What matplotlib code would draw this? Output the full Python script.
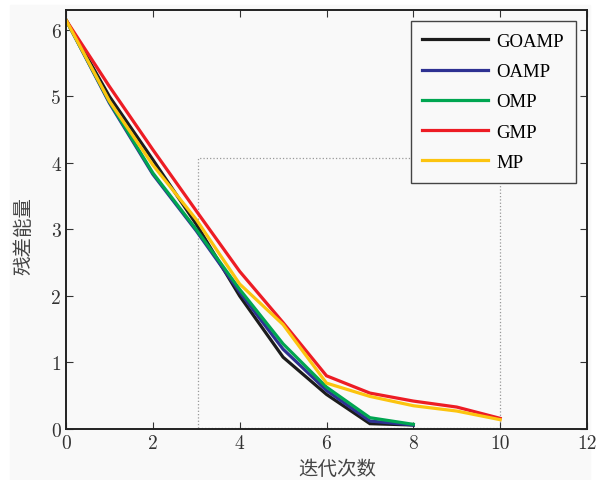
import matplotlib
matplotlib.use('Agg')
import matplotlib.pyplot as plt
from matplotlib.patches import Rectangle

# residual energy per iteration for each algorithm
goamp_x = [0, 1, 2, 3, 4, 5, 6, 7, 8]
goamp_y = [6.15, 5.0, 4.05, 3.08, 2.0, 1.08, 0.52, 0.08, 0.06]
oamp_x = [0, 1, 2, 3, 4, 5, 6, 7, 8]
oamp_y = [6.15, 4.9, 3.83, 2.98, 2.06, 1.2, 0.58, 0.12, 0.06]
omp_x = [0, 1, 2, 3, 4, 5, 6, 7, 8]
omp_y = [6.15, 4.92, 3.85, 3.0, 2.1, 1.28, 0.63, 0.17, 0.07]
gmp_x = [0, 1, 2, 3, 4, 5, 6, 7, 8, 9, 10]
gmp_y = [6.15, 5.15, 4.2, 3.28, 2.37, 1.6, 0.8, 0.54, 0.42, 0.33, 0.16]
mp_x = [0, 1, 2, 3, 4, 5, 6, 7, 8, 9, 10]
mp_y = [6.15, 4.93, 3.97, 3.15, 2.18, 1.57, 0.69, 0.49, 0.35, 0.27, 0.14]

names = ['GOAMP', 'OAMP', 'OMP', 'GMP', 'MP']
colors = ['#1c1c1c', '#2e3192', '#00a651', '#ed1c24', '#fcc40f']

# zoom window outline
box_x = [3.05, 10]
box_y = [0.02, 4.07]

fig = plt.figure(figsize=(6.01, 4.81), dpi=100, facecolor='white')
fig.patches.append(Rectangle((10 / 601, 0), 580 / 601, 1 - 6 / 481,
                             transform=fig.transFigure, color='#f9f9f9', zorder=-1))
ax = fig.add_axes([66 / 601, 1 - 430 / 481, 521 / 601, 419 / 481])
ax.set_facecolor('#f9f9f9')

series = [(goamp_x, goamp_y), (oamp_x, oamp_y), (omp_x, omp_y),
          (gmp_x, gmp_y), (mp_x, mp_y)]
for (xs, ys), name, c in zip(series, names, colors):
    ax.plot(xs, ys, color=c, lw=2.3, label=name, solid_joinstyle='miter')

ax.plot([box_x[0], box_x[0], box_x[1], box_x[1], box_x[0]],
        [box_y[0], box_y[1], box_y[1], box_y[0], box_y[0]],
        ls=':', color='#999999', lw=0.9, zorder=0)

ax.set_xlim(0, 12)
ax.set_ylim(0, 6.3)
ax.set_xticks(range(0, 13, 2))
ax.set_yticks(range(0, 7))
ax.tick_params(direction='in', length=5, width=0.8, top=True, right=True,
               labelsize=14, colors='#333333')
for lab in ax.get_xticklabels() + ax.get_yticklabels():
    lab.set_fontfamily('cmr10')
for s in ax.spines.values():
    s.set_linewidth(1.4)
    s.set_color('#222222')

ax.set_xlabel('迭代次数', fontsize=14, family=['Noto Sans CJK SC'], weight='light',
              color='#444444')
ax.set_ylabel('残差能量', fontsize=14, family=['Noto Sans CJK SC'], weight='light',
              color='#444444')
ax.xaxis.set_label_coords(0.521, -0.069)
ax.yaxis.set_label_coords(-0.06, 0.463)

leg = ax.legend(loc='upper right', handlelength=3.5, handletextpad=0.45,
                labelspacing=0.7, borderpad=0.62, borderaxespad=0.6, fancybox=False,
                prop={'family': 'Liberation Serif', 'size': 13.5})
leg.get_frame().set_edgecolor('#444444')
leg.get_frame().set_linewidth(1.0)
leg.get_frame().set_facecolor('#f9f9f9')
leg.get_frame().set_alpha(1)

fig.savefig('out.png', dpi=100, facecolor=fig.get_facecolor())
